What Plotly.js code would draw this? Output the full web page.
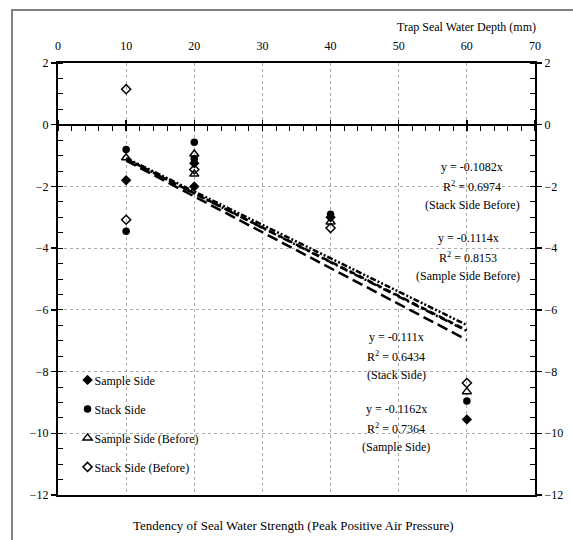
<!DOCTYPE html>
<html>
<head>
<meta charset="utf-8">
<script src="https://cdn.plot.ly/plotly-3.0.1.min.js"></script>
<style>
  html, body { margin: 0; padding: 0; background: #fff; }
  #chart { width: 573px; height: 540px; }
  .legendtext { transform: translateX(-13px); }
</style>
</head>
<body>
<div id="chart"></div>
<script>
// ---- data ----
const seriesNames = ["Sample Side", "Stack Side", "Sample Side (Before)", "Stack Side (Before)"];

const sampleSideX = [10, 20, 20, 40, 60];
const sampleSideY = [-1.8, -1.25, -2.0, -3.0, -9.55];

const stackSideX = [10, 10, 20, 20, 40, 60];
const stackSideY = [-0.8, -3.45, -0.57, -1.1, -2.9, -8.95];

const sampleBeforeX = [10, 20, 20, 40, 60];
const sampleBeforeY = [-1.07, -0.95, -1.6, -3.15, -8.65];

const stackBeforeX = [10, 10, 20, 40, 60];
const stackBeforeY = [1.15, -3.08, -1.45, -3.35, -8.37];

// linear trend lines through origin (slopes from the chart labels)
const trendSlopes = [-0.1162, -0.111, -0.1114, -0.1082];
const trendR2 = ["0.7364", "0.6434", "0.8153", "0.6974"];
const trendXRange = [10, 60];

const xTicks = [0, 10, 20, 30, 40, 50, 60, 70];
const yTicks = [2, 0, -2, -4, -6, -8, -10, -12];

const xTitle = "Tendency of Seal Water Strength (Peak Positive Air Pressure)";
const topTitle = "Trap Seal Water Depth (mm)";

// ---- styles ----
const FONT = "Liberation Serif";
const markerStyles = [
  {symbol: "diamond", size: 8, color: "black"},
  {symbol: "circle", size: 7.5, color: "black"},
  {symbol: "triangle-up-open", size: 8, color: "black", line: {width: 1.5, color: "black"}},
  {symbol: "diamond-open", size: 7, color: "black", line: {width: 1.5, color: "black"}}
];
const dashStyles = ["11px,5px", "6px,4px", "8px,3px,2px,3px", "6px,2px,2px,2px,2px,2px"];

const xs = [sampleSideX, stackSideX, sampleBeforeX, stackBeforeX];
const ys = [sampleSideY, stackSideY, sampleBeforeY, stackBeforeY];

const traces = [];
for (let i = 0; i < 4; i++) {
  traces.push({
    x: trendXRange.slice(),
    y: trendXRange.map(v => trendSlopes[i] * v),
    mode: "lines",
    line: {color: "black", width: 2.5, dash: dashStyles[i]},
    showlegend: false,
    hoverinfo: "skip",
    xaxis: "x", yaxis: "y"
  });
}
for (let i = 0; i < 4; i++) {
  traces.push({
    x: xs[i], y: ys[i],
    name: seriesNames[i],
    mode: "markers",
    marker: markerStyles[i],
    legendgroup: "g" + i,
    xaxis: "x", yaxis: "y"
  });
}
traces.push({x: [], y: [], xaxis: "x2", yaxis: "y", showlegend: false, mode: "markers"});
traces.push({x: [], y: [], xaxis: "x3", yaxis: "y", showlegend: false, mode: "markers"});
traces.push({x: [], y: [], xaxis: "x", yaxis: "y2", showlegend: false, mode: "markers"});

const tickFont = {family: FONT, size: 12, color: "black"};
const gridStyle = {showgrid: true, griddash: "dot", gridcolor: "#aaaaaa", gridwidth: 1};
const zeroPos = (0 - (-12)) / 14;

const layout = {
  width: 573, height: 540,
  margin: {l: 58, r: 38, t: 63, b: 45},
  paper_bgcolor: "white", plot_bgcolor: "white",
  font: {family: FONT, size: 12, color: "black"},
  showlegend: true,
  legend: {
    x: 0.02, y: 0.3, xanchor: "left", yanchor: "top",
    bgcolor: "rgba(0,0,0,0)", font: {family: FONT, size: 12, color: "black"},
    tracegroupgap: 10, itemwidth: 30
  },
  xaxis: Object.assign({
    range: [0, 70], tickvals: xTicks, side: "top",
    showline: true, mirror: true, linecolor: "black", linewidth: 2,
    ticks: "outside", ticklen: 6, tickcolor: "rgba(0,0,0,0)",
    zeroline: false, tickfont: tickFont, fixedrange: true
  }, gridStyle),
  xaxis2: {
    overlaying: "x", anchor: "free", position: zeroPos, side: "bottom",
    range: [0, 70], tickvals: xTicks,
    showline: true, linecolor: "black", linewidth: 2,
    ticks: "outside", ticklen: 5, tickwidth: 1.5, tickcolor: "black",
    showticklabels: false, showgrid: false, zeroline: false,
    minor: {dtick: 2, ticks: "outside", ticklen: 5, tickwidth: 1, tickcolor: "black", showgrid: false}
  },
  xaxis3: {
    overlaying: "x", anchor: "free", position: zeroPos, side: "top",
    range: [0, 70], tickvals: xTicks,
    showline: false, ticks: "outside", ticklen: 5, tickwidth: 1.5, tickcolor: "black",
    showticklabels: false, showgrid: false, zeroline: false
  },
  yaxis: Object.assign({
    range: [-12, 2], tickvals: yTicks,
    showline: true, linecolor: "black", linewidth: 2,
    ticks: "outside", ticklen: 5, tickwidth: 1.5, tickcolor: "black",
    minor: {dtick: 0.5, ticks: "inside", ticklen: 5, tickwidth: 1, tickcolor: "black", showgrid: false},
    zeroline: false, tickfont: tickFont, fixedrange: true
  }, gridStyle),
  yaxis2: {
    overlaying: "y", side: "right", anchor: "x",
    range: [-12, 2], tickvals: yTicks,
    showline: true, linecolor: "black", linewidth: 2,
    ticks: "outside", ticklen: 5, tickwidth: 1.5, tickcolor: "black",
    minor: {dtick: 0.5, ticks: "inside", ticklen: 5, tickwidth: 1, tickcolor: "black", showgrid: false},
    showgrid: false, zeroline: false, tickfont: tickFont
  },
  annotations: [
    {text: xTitle, xref: "paper", yref: "paper",
     x: 0.493, y: -0.07, xanchor: "center", yanchor: "middle", showarrow: false,
     font: {family: FONT, size: 13, color: "black"}},
    {text: topTitle, xref: "paper", yref: "paper",
     x: 1.006, y: 1.083, xanchor: "right", yanchor: "middle", showarrow: false,
     font: {family: FONT, size: 12, color: "black"}}
  ],
  shapes: [
    {type: "rect", xref: "paper", yref: "paper", x0: -0.0964, x1: 1.3, y0: -0.3, y1: 1.1227,
     line: {color: "#808080", width: 2}, fillcolor: "rgba(0,0,0,0)", layer: "above"}
  ]
};

const labelPos = [
  {i: 3, x: (472 - 58) / 477, y0: 167},
  {i: 2, x: (468 - 58) / 477, y0: 238},
  {i: 1, x: (396 - 58) / 477, y0: 337},
  {i: 0, x: (396 - 58) / 477, y0: 409}
];
const labelSuffix = ["(Sample Side)", "(Stack Side)", "(Sample Side Before)", "(Stack Side Before)"];
const pxToPaperY = py => (495 - py) / 432;
labelPos.forEach(p => {
  const lines = [
    "y = " + trendSlopes[p.i] + "x",
    "R<sup>2</sup> = " + trendR2[p.i],
    labelSuffix[p.i]
  ];
  lines.forEach((t, k) => {
    layout.annotations.push({
      text: t, xref: "paper", yref: "paper",
      x: p.x, y: pxToPaperY(p.y0 + k * 19), xanchor: "center", yanchor: "middle",
      showarrow: false, font: {family: FONT, size: 12, color: "black"}
    });
  });
});

Plotly.newPlot("chart", traces, layout, {staticPlot: true, displayModeBar: false});
</script>
</body>
</html>
